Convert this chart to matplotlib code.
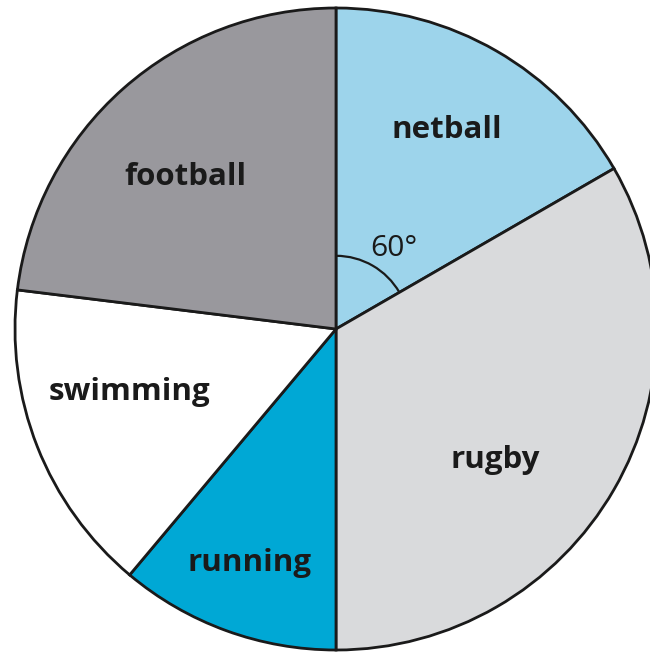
import matplotlib.pyplot as plt
from matplotlib.patches import Arc

# sports and their angles (degrees)
sports = ["netball", "rugby", "running", "swimming", "football"]
angles = [60, 120, 40, 57, 83]
colours = ["#9dd4eb", "#d9dadc", "#00a8d5", "#ffffff", "#99989d"]

# label positions (data units, pie radius = 1)
label_x = [0.346, 0.495, -0.268, -0.642, -0.470]
label_y = [0.620, -0.408, -0.729, -0.196, 0.474]

fig = plt.figure(figsize=(6.5, 6.52), dpi=100)
ax = fig.add_axes([0, 0, 1, 1])

ax.pie(angles, colors=colours, startangle=90, counterclock=False,
       wedgeprops=dict(edgecolor="#1a1a1a", linewidth=2))

for name, x, y in zip(sports, label_x, label_y):
    ax.text(x, y, name, ha="center", va="center", fontsize=22.5,
            fontweight="bold", family="Open Sans", color="#1a1a1a")

# 60 degree marker
ax.add_patch(Arc((0, 0), 0.456, 0.456, theta1=30, theta2=90,
                 color="#1a1a1a", linewidth=1.6))
ax.text(0.180, 0.250, "60°", ha="center", va="center", fontsize=21.5,
        family="Open Sans", color="#1a1a1a")

ax.set_xlim(-336 / 321, 314 / 321)
ax.set_ylim(-323 / 321, 329 / 321)
ax.axis("off")

plt.savefig("out.png")
